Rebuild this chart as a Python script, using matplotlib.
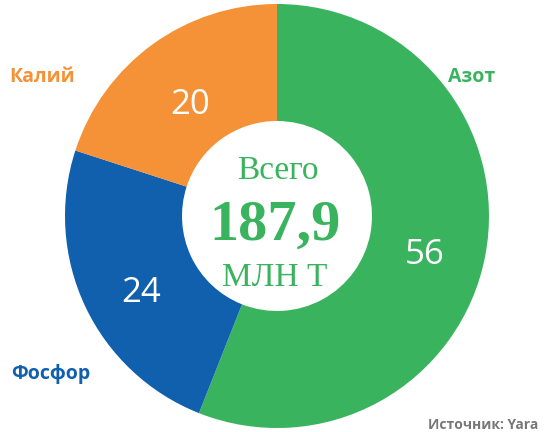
import matplotlib
matplotlib.use("Agg")
import matplotlib.pyplot as plt

# shares of world fertilizer consumption, %
categories = ["Азот", "Фосфор", "Калий"]
shares = [56, 24, 20]
colors = ["#39B35E", "#1060AD", "#F59237"]

total_label = "187,9"
source_text = "Источник: Yara"

W, H = 544, 432
fig = plt.figure(figsize=(W / 100, H / 100), dpi=100)
ax = fig.add_axes([0, 0, 1, 1])
ax.set_xlim(0, W)
ax.set_ylim(0, H)
ax.axis("off")

cx, cy = 277, 216
outer = 212
inner = 95

ax.pie(
    shares,
    colors=colors,
    startangle=90,
    counterclock=False,
    radius=outer,
    center=(cx, cy),
    frame=True,
    wedgeprops=dict(width=outer - inner, linewidth=0),
)
ax.set_xlim(0, W)
ax.set_ylim(0, H)
ax.axis("off")

sans = "Open Sans"
serif = "Liberation Serif"

# values on the wedges
value_pos = [(425, H - 255), (141, H - 293), (190, H - 105)]
for val, (x, y) in zip(shares, value_pos):
    ax.text(x, y, str(val), color="white", fontsize=25, family=sans,
            ha="center", va="center")

# category names outside the ring
name_pos = [(472, H - 77), (51, H - 374), (42, H - 77)]
for name, col, (x, y) in zip(categories, colors, name_pos):
    ax.text(x, y, name, color=col, fontsize=14, family=sans,
            fontweight="bold", ha="center", va="center")

# centre text
green = colors[0]
ax.text(cx + 1, H - 171, "Всего", color=green, fontsize=24, family=serif,
        ha="center", va="center")
ax.text(cx - 2, H - 226, total_label, color=green, fontsize=42, family=serif,
        fontweight="bold", ha="center", va="center")
ax.text(cx - 2, H - 278, "МЛН Т", color=green, fontsize=24, family=serif,
        ha="center", va="center")

ax.text(538, H - 429, source_text, color="#777777", fontsize=10, family=sans,
        fontweight="bold", ha="right", va="baseline")

fig.savefig("out.png", dpi=100)
